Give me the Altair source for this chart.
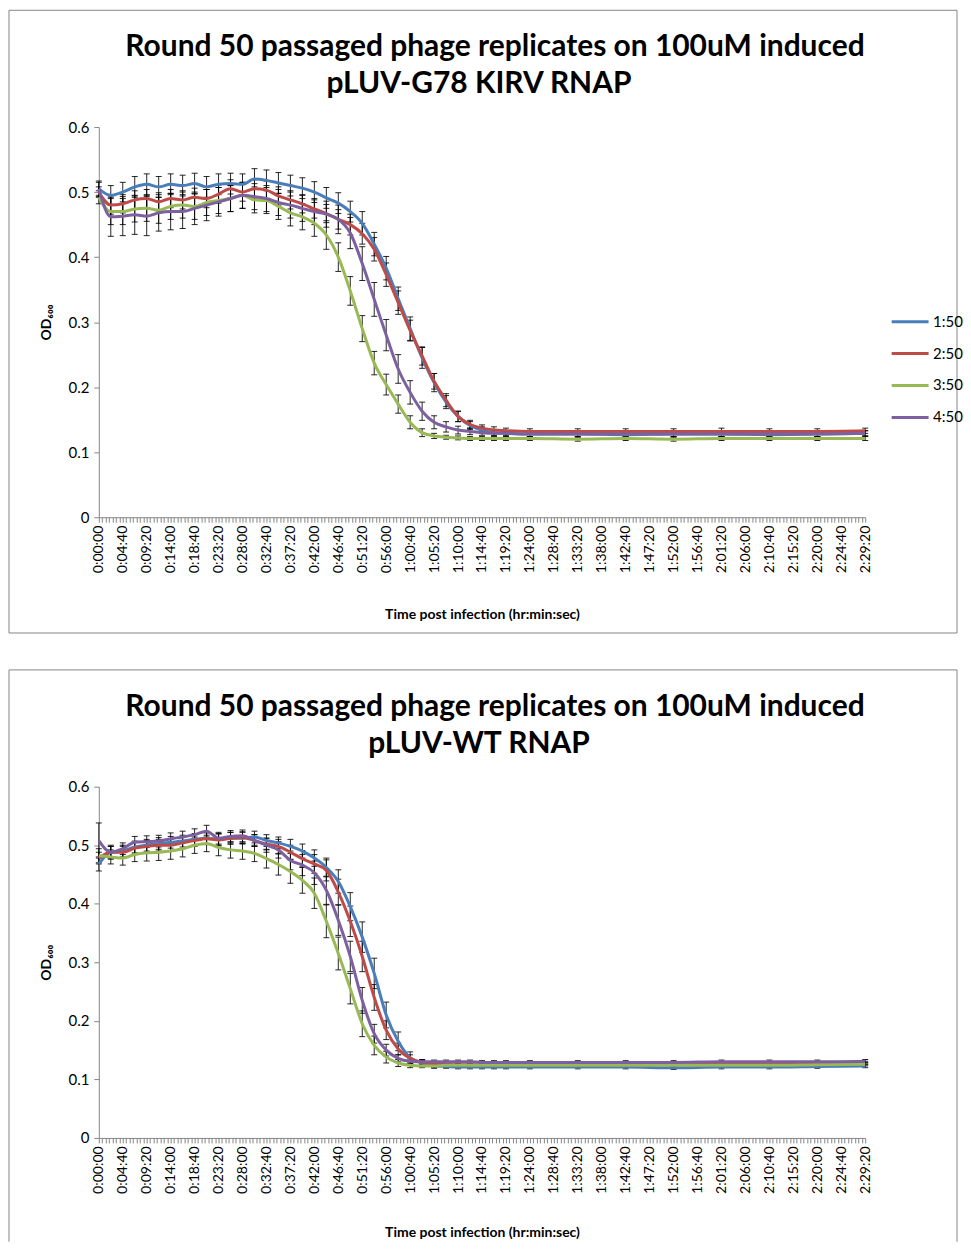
import altair as alt
import pandas as pd

# ---------------- data ----------------
TIMES = [0, 140, 280, 420, 560, 700, 840, 980, 1120, 1260,
         1400, 1540, 1680, 1820, 1960, 2100, 2240, 2380, 2520, 2660,
         2800, 2940, 3080, 3220, 3360, 3500, 3640, 3780, 3920, 4060,
         4200, 4340, 4480, 4620, 4760,
         5040, 5600, 6160, 6720, 7280, 7840, 8400, 8960]

SERIES = ["1:50", "2:50", "3:50", "4:50"]
COLORS = ["#4A7EBB", "#BE4B48", "#98B954", "#7D60A0"]

TOP_TITLE = ["Round 50 passaged phage replicates on 100uM induced", "pLUV-G78 KIRV RNAP"]
BOT_TITLE = ["Round 50 passaged phage replicates on 100uM induced", "pLUV-WT RNAP"]
X_TITLE = "Time post infection (hr:min:sec)"
Y_TITLE = "OD\u2086\u2080\u2080"

top_1 = [0.505, 0.495, 0.500, 0.508, 0.512, 0.508, 0.512, 0.510, 0.513, 0.508,
         0.512, 0.513, 0.512, 0.520, 0.518, 0.514, 0.510, 0.506, 0.500, 0.491,
         0.483, 0.470, 0.452, 0.420, 0.383, 0.336, 0.290, 0.245, 0.207, 0.177,
         0.155, 0.141, 0.134, 0.130, 0.129,
         0.128, 0.128, 0.127, 0.128, 0.128, 0.127, 0.128, 0.129]
top_2 = [0.500, 0.480, 0.482, 0.488, 0.490, 0.485, 0.490, 0.488, 0.492, 0.490,
         0.497, 0.505, 0.500, 0.505, 0.503, 0.494, 0.488, 0.482, 0.474, 0.467,
         0.458, 0.450, 0.436, 0.412, 0.373, 0.330, 0.287, 0.248, 0.209, 0.180,
         0.155, 0.143, 0.137, 0.134, 0.133,
         0.132, 0.132, 0.132, 0.132, 0.132, 0.132, 0.132, 0.133]
top_3 = [0.492, 0.470, 0.470, 0.474, 0.475, 0.472, 0.478, 0.480, 0.478, 0.484,
         0.487, 0.490, 0.495, 0.488, 0.487, 0.478, 0.468, 0.462, 0.452, 0.434,
         0.400, 0.348, 0.290, 0.237, 0.204, 0.174, 0.146, 0.130, 0.125, 0.123,
         0.122, 0.121, 0.121, 0.121, 0.121,
         0.121, 0.120, 0.121, 0.120, 0.121, 0.121, 0.121, 0.121]
top_4 = [0.505, 0.462, 0.463, 0.465, 0.463, 0.468, 0.470, 0.470, 0.475, 0.480,
         0.485, 0.490, 0.495, 0.493, 0.490, 0.484, 0.480, 0.475, 0.470, 0.466,
         0.458, 0.437, 0.390, 0.335, 0.280, 0.228, 0.192, 0.163, 0.146, 0.139,
         0.134, 0.132, 0.130, 0.129, 0.129,
         0.128, 0.128, 0.128, 0.128, 0.128, 0.128, 0.128, 0.129]

top_e1 = [0.010, 0.015, 0.015, 0.016, 0.016, 0.016, 0.016, 0.016, 0.016, 0.016,
          0.016, 0.016, 0.016, 0.016, 0.016, 0.016, 0.016, 0.016, 0.016, 0.016,
          0.016, 0.016, 0.018, 0.018, 0.018, 0.018, 0.018, 0.016, 0.014, 0.010,
          0.008, 0.006, 0.005, 0.004, 0.004,
          0.004, 0.004, 0.004, 0.004, 0.004, 0.004, 0.004, 0.004]
top_e2 = [0.008, 0.014, 0.014, 0.014, 0.014, 0.014, 0.014, 0.014, 0.014, 0.014,
          0.014, 0.014, 0.014, 0.014, 0.014, 0.014, 0.014, 0.014, 0.014, 0.014,
          0.015, 0.016, 0.016, 0.018, 0.018, 0.018, 0.016, 0.014, 0.012, 0.010,
          0.008, 0.006, 0.005, 0.005, 0.004,
          0.004, 0.004, 0.004, 0.004, 0.005, 0.004, 0.004, 0.004]
top_e3 = [0.010, 0.020, 0.020, 0.020, 0.020, 0.020, 0.020, 0.020, 0.020, 0.020,
          0.020, 0.020, 0.020, 0.020, 0.020, 0.020, 0.020, 0.020, 0.020, 0.022,
          0.022, 0.022, 0.020, 0.018, 0.016, 0.014, 0.010, 0.006, 0.004, 0.003,
          0.003, 0.003, 0.003, 0.003, 0.003,
          0.003, 0.003, 0.003, 0.003, 0.003, 0.003, 0.003, 0.003]
top_e4 = [0.012, 0.030, 0.030, 0.030, 0.030, 0.028, 0.028, 0.026, 0.025, 0.024,
          0.022, 0.020, 0.020, 0.020, 0.020, 0.020, 0.020, 0.020, 0.020, 0.020,
          0.022, 0.024, 0.026, 0.026, 0.024, 0.022, 0.018, 0.014, 0.010, 0.008,
          0.006, 0.005, 0.004, 0.004, 0.004,
          0.004, 0.004, 0.004, 0.004, 0.004, 0.004, 0.004, 0.004]

bot_1 = [0.468, 0.488, 0.490, 0.497, 0.500, 0.503, 0.505, 0.507, 0.510, 0.512,
         0.510, 0.512, 0.512, 0.514, 0.508, 0.504, 0.498, 0.490, 0.478, 0.462,
         0.438, 0.395, 0.343, 0.281, 0.210, 0.165, 0.137, 0.128, 0.123, 0.122,
         0.121, 0.121, 0.121, 0.121, 0.121,
         0.121, 0.121, 0.121, 0.120, 0.121, 0.121, 0.122, 0.123]
bot_2 = [0.478, 0.488, 0.488, 0.495, 0.498, 0.500, 0.500, 0.504, 0.508, 0.511,
         0.509, 0.512, 0.513, 0.508, 0.502, 0.498, 0.488, 0.477, 0.468, 0.457,
         0.420, 0.370, 0.310, 0.240, 0.184, 0.152, 0.136, 0.129, 0.127, 0.126,
         0.125, 0.125, 0.125, 0.125, 0.125,
         0.125, 0.125, 0.125, 0.125, 0.126, 0.126, 0.127, 0.128]
bot_3 = [0.482, 0.480, 0.478, 0.484, 0.487, 0.488, 0.490, 0.494, 0.500, 0.503,
         0.496, 0.492, 0.490, 0.486, 0.477, 0.467, 0.455, 0.440, 0.418, 0.370,
         0.315, 0.255, 0.195, 0.158, 0.138, 0.128, 0.124, 0.123, 0.123, 0.124,
         0.124, 0.124, 0.124, 0.124, 0.124,
         0.124, 0.124, 0.124, 0.124, 0.124, 0.124, 0.125, 0.126]
bot_4 = [0.508, 0.488, 0.494, 0.505, 0.506, 0.507, 0.511, 0.514, 0.518, 0.524,
         0.512, 0.515, 0.516, 0.508, 0.500, 0.492, 0.474, 0.466, 0.453, 0.423,
         0.372, 0.310, 0.235, 0.178, 0.150, 0.136, 0.131, 0.130, 0.130, 0.130,
         0.130, 0.130, 0.129, 0.129, 0.129,
         0.129, 0.129, 0.129, 0.129, 0.130, 0.130, 0.130, 0.131]

bot_e1 = [0.012, 0.010, 0.010, 0.010, 0.010, 0.010, 0.010, 0.010, 0.010, 0.010,
          0.010, 0.010, 0.010, 0.010, 0.010, 0.010, 0.012, 0.012, 0.014, 0.016,
          0.020, 0.024, 0.026, 0.026, 0.022, 0.016, 0.010, 0.006, 0.004, 0.003,
          0.003, 0.003, 0.003, 0.003, 0.003,
          0.003, 0.003, 0.003, 0.003, 0.003, 0.003, 0.003, 0.003]
bot_e2 = [0.010, 0.010, 0.010, 0.010, 0.010, 0.010, 0.010, 0.010, 0.010, 0.010,
          0.010, 0.010, 0.010, 0.010, 0.010, 0.012, 0.012, 0.014, 0.016, 0.018,
          0.022, 0.026, 0.026, 0.022, 0.016, 0.010, 0.006, 0.004, 0.003, 0.003,
          0.003, 0.003, 0.003, 0.003, 0.003,
          0.003, 0.003, 0.003, 0.003, 0.003, 0.003, 0.003, 0.003]
bot_e3 = [0.012, 0.012, 0.012, 0.012, 0.014, 0.014, 0.014, 0.014, 0.014, 0.014,
          0.014, 0.014, 0.014, 0.014, 0.016, 0.018, 0.020, 0.022, 0.026, 0.028,
          0.028, 0.026, 0.022, 0.016, 0.010, 0.006, 0.004, 0.003, 0.003, 0.003,
          0.003, 0.003, 0.003, 0.003, 0.003,
          0.003, 0.003, 0.003, 0.003, 0.003, 0.003, 0.003, 0.003]
bot_e4 = [0.030, 0.012, 0.010, 0.010, 0.010, 0.010, 0.010, 0.010, 0.010, 0.010,
          0.010, 0.010, 0.010, 0.010, 0.012, 0.014, 0.016, 0.018, 0.020, 0.024,
          0.026, 0.026, 0.022, 0.016, 0.010, 0.006, 0.004, 0.003, 0.003, 0.003,
          0.003, 0.003, 0.003, 0.003, 0.003,
          0.003, 0.003, 0.003, 0.003, 0.003, 0.003, 0.003, 0.003]

AXIS_MAX_T = 8960
TICK_STEP = 40
LABEL_STEP = 280

FONT = "Lato"
GRAY = "#868686"


def long_frame(values, errs):
    rows = []
    for name, vals, es in zip(SERIES, values, errs):
        for t, v, e in zip(TIMES, vals, es):
            rows.append({"t": t, "series": name, "v": v, "lo": v - e, "hi": v + e})
    return pd.DataFrame(rows)


label_expr = (
    f"datum.value % {LABEL_STEP} == 0 ? "
    "(floor(datum.value / 3600) + ':' + format(floor((datum.value % 3600) / 60), '02d')"
    " + ':' + format(datum.value % 60, '02d')) : ''"
)

XS = alt.Scale(domain=[0, AXIS_MAX_T], nice=False, zero=False)
YS = alt.Scale(domain=[0, 0.6], nice=False)


def x_axis(title_pad):
    return alt.Axis(
        values=list(range(0, AXIS_MAX_T + 1, TICK_STEP)),
        labelExpr=label_expr, labelAngle=270, labelAlign="right",
        labelBaseline="middle", labelPadding=3, labelOverlap=False,
        labelFlush=False, labelFont=FONT, labelFontSize=14, labelColor="black",
        tickSize=5, tickColor=GRAY, domainColor=GRAY, grid=False,
        title=X_TITLE, titleFont=FONT, titleFontSize=14, titleFontWeight="bold",
        titleColor="black", titlePadding=title_pad)


Y_AXIS = alt.Axis(
    values=[0, 0.1, 0.2, 0.3, 0.4, 0.5, 0.6],
    labelExpr="datum.value == 0 ? '0' : format(datum.value, '.1f')",
    labelFont=FONT, labelFontSize=15, labelColor="black", labelPadding=5,
    tickSize=5, tickColor=GRAY, domainColor=GRAY, grid=False,
    title=Y_TITLE, titleFont=FONT, titleFontSize=14, titleFontWeight="bold",
    titleColor="black", titlePadding=14)


def panel(values, errs, title_lines, height, box_bottom, legend_y, title_pad, closed):
    df = long_frame(values, errs)
    x = alt.X("t:Q", scale=XS, axis=x_axis(title_pad))
    one = pd.DataFrame({"k": [0]})

    if closed:
        frame = [alt.Chart(one).mark_rect(filled=False, stroke=GRAY, strokeWidth=1).encode(
            x=alt.value(-90), x2=alt.value(860),
            y=alt.value(-117), y2=alt.value(box_bottom))]
    else:
        frame = [
            alt.Chart(one).mark_rule(color=GRAY, strokeWidth=1).encode(
                x=alt.value(-90), x2=alt.value(860), y=alt.value(-117)),
            alt.Chart(one).mark_rule(color=GRAY, strokeWidth=1).encode(
                x=alt.value(-90), y=alt.value(-117), y2=alt.value(box_bottom)),
            alt.Chart(one).mark_rule(color=GRAY, strokeWidth=1).encode(
                x=alt.value(860), y=alt.value(-117), y2=alt.value(box_bottom)),
        ]

    base = alt.Chart(df)
    err = base.mark_rule(color="black", strokeWidth=1, opacity=0.85).encode(
        x=x, y=alt.Y("lo:Q", scale=YS, axis=Y_AXIS), y2="hi:Q")
    cap_lo = base.mark_tick(color="black", thickness=1, size=6, orient="horizontal",
                            opacity=0.85).encode(
        x=x, y=alt.Y("lo:Q", scale=YS, axis=Y_AXIS))
    cap_hi = base.mark_tick(color="black", thickness=1, size=6, orient="horizontal",
                            opacity=0.85).encode(
        x=x, y=alt.Y("hi:Q", scale=YS, axis=Y_AXIS))
    lines = base.mark_line(strokeWidth=3, interpolate="monotone").encode(
        x=x, y=alt.Y("v:Q", scale=YS, axis=Y_AXIS),
        color=alt.Color("series:N", scale=alt.Scale(domain=SERIES, range=COLORS),
                        legend=alt.Legend(
                            title=None, orient="none", legendX=793, legendY=legend_y,
                            symbolType="stroke", symbolStrokeWidth=3,
                            symbolSize=1369, rowPadding=4, labelOffset=3,
                            labelFont=FONT, labelFontSize=15, labelColor="black")),
        order="t:Q")

    t1 = alt.Chart(pd.DataFrame({"s": [title_lines[0]]})).mark_text(
        font=FONT, fontSize=30, fontWeight="bold", color="black",
        align="center", baseline="middle").encode(
        x=alt.value(397), y=alt.value(-80), text="s:N")
    t2 = alt.Chart(pd.DataFrame({"s": [title_lines[1]]})).mark_text(
        font=FONT, fontSize=30, fontWeight="bold", color="black",
        align="center", baseline="middle").encode(
        x=alt.value(381), y=alt.value(-43), text="s:N")

    return alt.layer(*frame, err, cap_lo, cap_hi, lines, t1, t2).properties(
        width=768, height=height)


top = panel([top_1, top_2, top_3, top_4], [top_e1, top_e2, top_e3, top_e4],
            TOP_TITLE, 391, 507, 175, 35, True)
bot = panel([bot_1, bot_2, bot_3, bot_4], [bot_e1, bot_e2, bot_e3, bot_e4],
            BOT_TITLE, 352, 456, 155, 32, False)

chart = alt.vconcat(top, bot, spacing=35).properties(
    padding={"left": 0, "top": 0, "right": 0, "bottom": 0}
).configure(background="white").configure_view(strokeWidth=0)

chart.save("out.html", embed_options={"renderer": "svg", "actions": False})
